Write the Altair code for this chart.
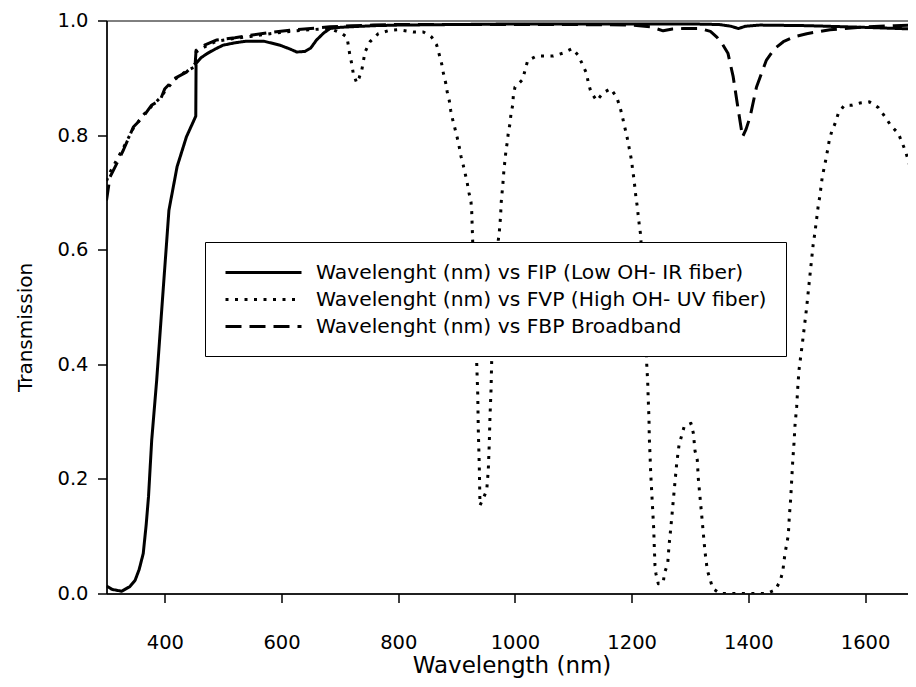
import altair as alt
import pandas as pd

# ---------------- data ----------------
series_labels = [
    "Wavelenght (nm) vs FIP (Low OH- IR fiber)",
    "Wavelenght (nm) vs FVP (High OH- UV fiber)",
    "Wavelenght (nm) vs FBP Broadband",
]

fip_wl = [300, 310, 326, 340, 349, 356, 363, 368, 372, 377.5, 386, 395, 407, 421, 437, 453,
          453.5, 462, 472, 486, 500, 520, 540, 569, 597, 615, 626, 640, 650, 660, 672, 683,
          700, 717, 760, 800, 900, 1000, 1100, 1200, 1300, 1350, 1370, 1383, 1395, 1420,
          1500, 1600, 1687]
fip_t = [0.013, 0.007, 0.004, 0.012, 0.023, 0.042, 0.070, 0.120, 0.169, 0.268, 0.372, 0.500,
         0.669, 0.745, 0.797, 0.833, 0.925, 0.935, 0.942, 0.950, 0.957, 0.961, 0.964, 0.964,
         0.957, 0.950, 0.945, 0.946, 0.952, 0.966, 0.978, 0.986, 0.988, 0.989, 0.991, 0.992,
         0.993, 0.994, 0.994, 0.994, 0.994, 0.993, 0.990, 0.986, 0.990, 0.992, 0.991, 0.988,
         0.985]

fvp_wl = [300, 306, 315, 329, 346, 363, 377, 392, 400, 417, 437, 449, 452, 453.5, 470, 489,
          520, 546, 580, 614, 650, 683, 697, 705, 712, 714.4, 717, 720.2, 723, 728.8, 733,
          737.4, 740.1, 743, 751.6, 765.8, 786, 800, 825.8, 843, 857.3, 865.9, 870.4, 874.5,
          877.2, 881.3, 884, 887.5, 889.9, 893.3, 897.3, 901.2, 904.6, 907.5, 911.5, 914.9,
          918.3, 921.3, 924.7, 925.9, 926.9, 928, 931, 934.4, 936.2, 937.2, 938.9, 940.1,
          945.7, 951.6, 954.3, 956, 957.2, 959, 960.1, 965, 969, 971.5, 973.2, 974.4, 975.6,
          976.1, 977.3, 979, 980, 981.2, 982.9, 984.7, 986.9, 988.6, 991.5, 993.2, 996.1,
          997.2, 1000.1, 1013.3, 1017.2, 1021.8, 1037.3, 1050.3, 1065.7, 1081.8, 1098.3,
          1108.6, 1115.4, 1123, 1125.7, 1130.3, 1140.1, 1151.4, 1164.1, 1174.4, 1180, 1184,
          1187.4, 1191.5, 1194.3, 1197.2, 1200.1, 1201.8, 1204, 1205.8, 1207.5, 1209.7,
          1211.4, 1213.1, 1215.5, 1219, 1222.5, 1225.8, 1227.5, 1228.5, 1229.7, 1230.2,
          1231.5, 1232.7, 1234.4, 1236.1, 1237.8, 1238.8, 1240, 1241.7, 1245.7, 1254.2, 1256,
          1261.8, 1264, 1265.7, 1268.6, 1271.4, 1274.3, 1277.2, 1281.2, 1285.8, 1290.2,
          1301.7, 1305.7, 1308.6, 1312.5, 1314.2, 1317.1, 1320, 1322.8, 1325.7, 1329.6,
          1338.9, 1351.4, 1431.4, 1445.7, 1454.3, 1458.9, 1462.8, 1465.7, 1468.5, 1470.2,
          1472.6, 1474.3, 1476, 1478.2, 1480, 1482.8, 1484.6, 1486.8, 1493, 1500, 1505,
          1508.6, 1511.3, 1514.3, 1516, 1518.2, 1519.9, 1522.8, 1524.5, 1526.7, 1529.7,
          1533.1, 1536, 1538.7, 1542.8, 1548.5, 1554.2, 1564.4, 1577.1, 1591.3, 1607.3,
          1622.7, 1634.2, 1644, 1657, 1668.5, 1674.1, 1682.7, 1687]
fvp_t = [0.720, 0.735, 0.752, 0.778, 0.812, 0.835, 0.850, 0.865, 0.876, 0.897, 0.912, 0.918,
         0.920, 0.945, 0.955, 0.964, 0.969, 0.972, 0.977, 0.981, 0.984, 0.986, 0.980, 0.976,
         0.971, 0.957, 0.940, 0.925, 0.907, 0.891, 0.900, 0.913, 0.928, 0.945, 0.963, 0.977,
         0.983, 0.984, 0.980, 0.980, 0.971, 0.957, 0.940, 0.924, 0.909, 0.891, 0.875, 0.860,
         0.843, 0.827, 0.811, 0.795, 0.779, 0.763, 0.747, 0.732, 0.716, 0.699, 0.683, 0.667,
         0.635, 0.600, 0.500, 0.404, 0.349, 0.285, 0.221, 0.154, 0.166, 0.180, 0.215, 0.262,
         0.308, 0.355, 0.404, 0.500, 0.580, 0.617, 0.631, 0.646, 0.662, 0.678, 0.693, 0.710,
         0.724, 0.740, 0.756, 0.774, 0.788, 0.804, 0.820, 0.837, 0.852, 0.868, 0.884, 0.897,
         0.913, 0.930, 0.938, 0.938, 0.938, 0.943, 0.951, 0.939, 0.924, 0.907, 0.891, 0.875,
         0.860, 0.874, 0.881, 0.866, 0.849, 0.833, 0.817, 0.800, 0.785, 0.770, 0.754, 0.738,
         0.723, 0.706, 0.690, 0.675, 0.658, 0.643, 0.625, 0.550, 0.475, 0.401, 0.369, 0.337,
         0.305, 0.273, 0.241, 0.209, 0.177, 0.145, 0.113, 0.081, 0.049, 0.034, 0.017, 0.019,
         0.035, 0.052, 0.083, 0.100, 0.131, 0.163, 0.195, 0.227, 0.259, 0.276, 0.292, 0.297,
         0.280, 0.249, 0.233, 0.201, 0.169, 0.137, 0.105, 0.073, 0.041, 0.009, 0.000, 0.000,
         0.006, 0.021, 0.038, 0.070, 0.086, 0.102, 0.134, 0.166, 0.198, 0.230, 0.262, 0.294,
         0.326, 0.358, 0.390, 0.440, 0.500, 0.550, 0.585, 0.611, 0.631, 0.646, 0.663, 0.678,
         0.695, 0.710, 0.727, 0.742, 0.759, 0.775, 0.791, 0.806, 0.820, 0.838, 0.852, 0.852,
         0.856, 0.858, 0.848, 0.832, 0.817, 0.803, 0.774, 0.756, 0.724, 0.715]

fbp_wl = [300, 306, 315, 329, 346, 363, 377, 392, 400, 417, 437, 449, 452, 453.5, 470, 489,
          520, 546, 580, 614, 650, 683, 720, 757, 800, 900, 1000, 1100, 1200, 1232, 1254,
          1270, 1288, 1317, 1335, 1346, 1356, 1365, 1374, 1381, 1390, 1396, 1403, 1414, 1431,
          1445, 1460, 1480, 1500, 1540, 1603, 1650, 1687]
fbp_t = [0.686, 0.727, 0.745, 0.774, 0.814, 0.832, 0.852, 0.861, 0.881, 0.899, 0.910, 0.922,
         0.925, 0.948, 0.958, 0.966, 0.970, 0.974, 0.979, 0.983, 0.986, 0.989, 0.991, 0.992,
         0.993, 0.993, 0.993, 0.993, 0.992, 0.989, 0.982, 0.985, 0.986, 0.986, 0.981, 0.971,
         0.958, 0.943, 0.902, 0.855, 0.797, 0.810, 0.832, 0.884, 0.931, 0.951, 0.963, 0.972,
         0.977, 0.984, 0.989, 0.991, 0.992]

x_ticks = [400, 600, 800, 1000, 1200, 1400, 1600]
y_ticks = [0.0, 0.2, 0.4, 0.6, 0.8, 1.0]

# ---------------- table ----------------
rows = []
for lab, wls, ts in zip(series_labels, [fip_wl, fvp_wl, fbp_wl], [fip_t, fvp_t, fbp_t]):
    for w, v in zip(wls, ts):
        rows.append({"series": lab, "wl": w, "t": v})
df = pd.DataFrame(rows)

FONT = "DejaVu Sans"

# legend line symbol: a custom path 76 px long (unit = sqrt(size)/2 = 10 px)
LEGEND_LINE = "M-1,0H6.6"

chart = alt.Chart(df).mark_line(
    color="black", strokeWidth=3, clip=True, strokeCap="butt", strokeJoin="round"
).encode(
    x=alt.X(
        "wl:Q",
        scale=alt.Scale(domain=[300, 1673.6], nice=False, zero=False),
        axis=alt.Axis(
            values=x_ticks, format="d", title="Wavelength (nm)",
            labelFont=FONT, labelFontSize=19.5, labelColor="black",
            labelBaseline="alphabetic", labelPadding=46,
            titleFont=FONT, titleFontSize=23, titleFontWeight="normal", titleColor="black",
            titleX=405, titleY=79, titleBaseline="alphabetic", titleAlign="center",
            tickSize=9, tickWidth=1.5, tickColor="black",
            domainColor="black", domainWidth=1.5, grid=False,
        ),
    ),
    y=alt.Y(
        "t:Q",
        scale=alt.Scale(domain=[0, 1], nice=False, zero=False),
        axis=alt.Axis(
            values=y_ticks, format=".1f", title="Transmission",
            labelFont=FONT, labelFontSize=19.5, labelColor="black", labelPadding=9.5,
            titleFont=FONT, titleFontSize=20, titleFontWeight="normal", titleColor="black",
            titleX=-81.5, titleY=306.5, titleBaseline="middle", titleAlign="center",
            titleAngle=270,
            tickSize=9, tickWidth=1.5, tickColor="black",
            domainColor="black", domainWidth=1.5, grid=False,
        ),
    ),
    strokeDash=alt.StrokeDash(
        "series:N",
        scale=alt.Scale(domain=series_labels, range=[[1, 0], [3, 6.5], [16, 8]]),
        legend=alt.Legend(
            orient="none", legendX=98.5, legendY=221.5, title=None,
            fillColor="white", strokeColor="black", padding=19,
            symbolType=LEGEND_LINE, symbolSize=400, symbolStrokeWidth=3,
            symbolStrokeColor="black", symbolFillColor="transparent",
            labelFont=FONT, labelFontSize=20.3, labelColor="black",
            labelOffset=69, labelLimit=1000, rowPadding=5,
        ),
    ),
).properties(
    width=801.5,
    height=573,
    autosize=alt.AutoSizeParams(type="none"),
    padding={"left": 98.5, "top": 12.5, "right": 0, "bottom": 84},
).configure_view(
    stroke="black", strokeWidth=1
)

chart.save("out.html", embed_options={"renderer": "svg", "actions": False})
